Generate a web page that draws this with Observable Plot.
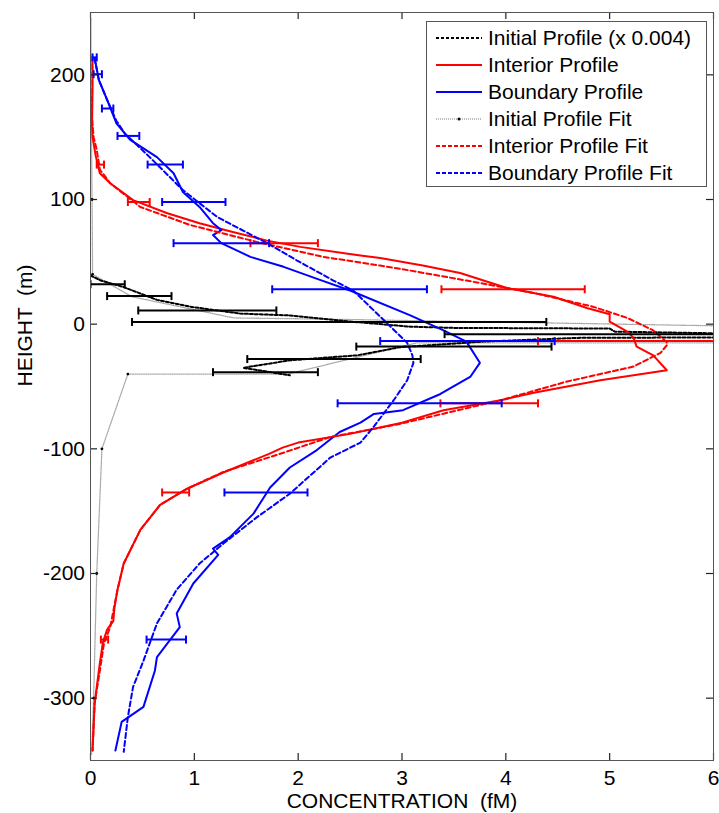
<!DOCTYPE html>
<html>
<head>
<meta charset="utf-8">
<script src="https://cdn.jsdelivr.net/npm/d3@7"></script>
<script src="https://cdn.jsdelivr.net/npm/@observablehq/plot@0.6"></script>
<style>
  body { margin: 0; background: #fff; }
  #wrap { position: relative; width: 719px; height: 813px; font-family: "Liberation Sans", Arial, sans-serif; }
  #wrap svg text { white-space: pre; }
  #legend { position: absolute; left: 426px; top: 21px; width: 281px; height: 166px; box-sizing: border-box;
            border: 1px solid #555; background: #fff; }
  .item { position: absolute; left: 0; height: 26px; display: flex; align-items: center;
          font-size: 21px; color: #000; white-space: pre; }
  .item svg { margin-left: 9px; margin-right: 6px; }
</style>
</head>
<body>
<div id="wrap"></div>
<script>
// ---------- tick labels ----------
const xTicks = [0, 1, 2, 3, 4, 5, 6];
const yTicks = [-300, -200, -100, 0, 100, 200];

// ---------- series: [concentration (fM), height (m)] ----------
const initialProfile = [
  [0.0, 39], [0.1, 35], [0.31, 30], [0.64, 19.5], [0.96, 14], [1.44, 8.5], [1.92, 7],
  [2.57, 1.6], [3.08, -2], [3.5, -3], [5.0, -3.5], [5.05, -6], [6.5, -8],
  [6.5, -10.5], [4.69, -11], [3.78, -14], [2.98, -18.5], [2.57, -25], [1.92, -29],
  [1.47, -35], [1.92, -41]
];
const interiorProfile = [
  [0.02, 214], [0.02, 190], [0.015, 160], [0.02, 150], [0.05, 135], [0.09, 121], [0.19, 113],
  [0.41, 99.5], [0.74, 89], [1.05, 81], [1.37, 74], [1.70, 67], [2.02, 62], [2.60, 55],
  [2.79, 53], [3.2, 47], [3.56, 41], [4.01, 29], [4.46, 22], [4.78, 13], [5.0, 8], [5.0, 2],
  [5.17, -6], [5.23, -11], [5.26, -18], [5.42, -25], [5.55, -37], [4.91, -45], [4.27, -55],
  [3.95, -61], [3.4, -69], [3.0, -79], [2.5, -88], [2.0, -95], [1.85, -99], [1.72, -104],
  [1.28, -119], [0.93, -132], [0.67, -145], [0.48, -165], [0.32, -192], [0.26, -213],
  [0.23, -228], [0.22, -238], [0.16, -245], [0.12, -255], [0.09, -272], [0.04, -304], [0.02, -342]
];
const boundaryProfile = [
  [0.04, 213], [0.06, 205], [0.08, 196], [0.16, 180], [0.25, 161], [0.38, 148], [0.64, 134],
  [0.8, 121], [0.89, 106], [1.05, 94], [1.18, 81], [1.26, 75.5], [1.18, 71.5], [1.26, 65],
  [1.54, 54], [1.86, 46], [2.21, 35.5], [2.5, 27], [3.08, 7], [3.4, -5], [3.62, -14],
  [3.75, -31], [3.66, -42], [3.37, -56], [3.01, -69], [2.73, -72], [2.6, -79], [2.4, -86.5],
  [2.18, -101], [1.92, -115], [1.73, -131], [1.57, -152], [1.34, -171], [1.18, -180],
  [1.23, -185], [0.99, -208], [0.83, -232], [0.86, -243], [0.64, -267], [0.62, -278],
  [0.51, -307], [0.3, -319], [0.24, -342]
];
const initialFit = [
  [0.005, 245], [0.005, 200], [0.01, 150], [0.015, 100], [0.02, 40], [0.4, 22], [1.38, 5],
  [2.3, 4], [6.5, -2], [6.5, -15], [3.14, -15], [1.9, -40], [0.36, -40], [0.11, -100],
  [0.06, -200], [0.03, -300], [0.01, -345]
];
const initialFitMarkers = [
  [0.015, 100], [0.02, 40], [0.36, -40], [0.11, -100], [0.06, -200], [0.03, -300]
];
const interiorFit = [
  [0.0, 215], [0.0, 190], [0.01, 170], [0.03, 150], [0.06, 140], [0.09, 124], [0.19, 113],
  [0.48, 94], [0.96, 79.5], [1.6, 66], [2.24, 54], [2.79, 47], [3.08, 43], [3.62, 35],
  [4.27, 25], [4.84, 14], [5.17, 5], [5.42, -5], [5.55, -14.5], [5.55, -17], [5.49, -23],
  [5.23, -34], [4.59, -46], [3.95, -61], [2.98, -80], [2.31, -90.5], [1.79, -105],
  [1.28, -118.5], [0.93, -132], [0.67, -145], [0.48, -165], [0.32, -192], [0.26, -213],
  [0.22, -230], [0.19, -243], [0.13, -256], [0.09, -278], [0.04, -304], [0.02, -342]
];
const boundaryFit = [
  [0.04, 213], [0.08, 196], [0.16, 180], [0.25, 163], [0.33, 153], [0.57, 134], [0.89, 107.5],
  [1.22, 86], [1.7, 65], [1.99, 51], [2.34, 35], [2.53, 27], [2.89, -2], [3.05, -15],
  [3.1, -25], [3.11, -31], [3.05, -45], [2.92, -61], [2.73, -82], [2.6, -95], [2.31, -107],
  [1.92, -136], [1.6, -155], [1.28, -176], [1.05, -192], [0.83, -213], [0.64, -240],
  [0.51, -270], [0.41, -291], [0.36, -315], [0.32, -343]
];

// ---------- error bars: [height, low, high] ----------
const initialErr = [
  [32, 0.0, 0.33], [22.5, 0.16, 0.78], [11, 0.46, 1.79], [1.8, 0.40, 4.39],
  [-8, 3.41, 6.5], [-18, 2.56, 4.44], [-28, 1.51, 3.18], [-38.5, 1.18, 2.19]
];
const interiorErr = [
  [128, 0.06, 0.13], [98, 0.36, 0.57], [65, 1.54, 2.19], [28, 3.38, 4.76],
  [-13.6, 4.31, 6.3], [-63.5, 3.37, 4.31], [-135, 0.69, 0.95], [-253, 0.10, 0.17]
];
const boundaryErr = [
  [214, 0.02, 0.06], [200.5, 0.03, 0.11], [173, 0.11, 0.22], [151, 0.26, 0.47],
  [128, 0.55, 0.89], [98, 0.69, 1.30], [65, 0.80, 1.72], [28, 1.75, 3.24],
  [-13.6, 2.79, 4.47], [-63.5, 2.38, 3.96], [-135, 1.29, 2.09], [-253, 0.54, 0.92]
];

// ---------- legend ----------
const legendLabels = ["Initial Profile (x 0.004)", "Interior Profile", "Boundary Profile",
                      "Initial Profile Fit", "Interior Profile Fit", "Boundary Profile Fit"];

// ---------- styles ----------
const RED = "#ff0000", BLUE = "#0000ff", BLACK = "#000000", GRAY = "#a8a8a8";
const DASH = "5,3";
const legendStyles = [
  {stroke: BLACK, dash: "3,2", width: 2},
  {stroke: RED, dash: null, width: 2},
  {stroke: BLUE, dash: null, width: 2},
  {stroke: GRAY, dash: "1,1", width: 1.5, marker: true},
  {stroke: RED, dash: "4,2", width: 2},
  {stroke: BLUE, dash: "4,2", width: 2}
];

// layout (pixels)
const W = 719, H = 813, ML = 90, MR = 6, MT = 12, MB = 53;
const FW = W - ML - MR, FH = H - MT - MB, TL = 7;

// symbol for error-bar caps (pixel-sized)
const vSym = {draw(c, s) { const h = Math.sqrt(s / Math.PI); c.moveTo(0, -h); c.lineTo(0, h); }};

const X = d => d[0], Y = d => d[1];
function line(data, stroke, opts = {}) {
  return Plot.line(data, {x: X, y: Y, stroke, strokeWidth: 2, clip: true, ...opts});
}
function errBars(data, stroke) {
  return [
    Plot.ruleY(data, {y: d => d[0], x1: d => d[1], x2: d => d[2], stroke, strokeWidth: 2, clip: true}),
    Plot.dot(data, {x: d => d[1], y: d => d[0], symbol: vSym, r: 4, stroke, fill: "none", strokeWidth: 2, clip: true}),
    Plot.dot(data, {x: d => d[2], y: d => d[0], symbol: vSym, r: 4, stroke, fill: "none", strokeWidth: 2, clip: true})
  ];
}
const TICK = "#222";
const fmt = d => String(d);

const chart = Plot.plot({
  width: W,
  height: H,
  marginLeft: ML,
  marginRight: MR,
  marginTop: MT,
  marginBottom: MB,
  style: {fontFamily: '"Liberation Sans", Arial, sans-serif', fontSize: "21px", background: "#fff", color: "#000"},
  x: {domain: [0, 6], label: null},
  y: {domain: [-350, 250], label: null},
  marks: [
    // data series
    line(initialFit, GRAY, {strokeWidth: 1.3, strokeDasharray: "1,1.2"}),
    Plot.dot(initialFitMarkers, {x: X, y: Y, r: 1.4, fill: BLACK, stroke: "none", clip: true}),
    line(initialProfile, BLACK, {strokeDasharray: "3,2"}),
    line(interiorProfile, RED),
    line(boundaryProfile, BLUE),
    line(interiorFit, RED, {strokeDasharray: DASH}),
    line(boundaryFit, BLUE, {strokeDasharray: DASH}),
    ...errBars(initialErr, BLACK),
    ...errBars(interiorErr, RED),
    ...errBars(boundaryErr, BLUE),
    // inward ticks on all four sides (rules inset to tick length)
    Plot.ruleX(xTicks, {x: d => d, insetTop: FH - TL, stroke: TICK, strokeWidth: 1.2}),
    Plot.ruleX(xTicks, {x: d => d, insetBottom: FH - TL, stroke: TICK, strokeWidth: 1.2}),
    Plot.ruleY(yTicks, {y: d => d, insetRight: FW - TL, stroke: TICK, strokeWidth: 1.2}),
    Plot.ruleY(yTicks, {y: d => d, insetLeft: FW - TL, stroke: TICK, strokeWidth: 1.2}),
    // tick labels
    Plot.axisX(xTicks, {anchor: "bottom", tickSize: 0, tickPadding: 10, label: null, fontSize: 21, tickFormat: fmt}),
    Plot.axisY(yTicks, {anchor: "left", tickSize: 0, tickPadding: 5.5, label: null, fontSize: 21, tickFormat: fmt}),
    Plot.frame({stroke: "#555"}),
    // axis titles
    Plot.text(["CONCENTRATION  (fM)"], {frameAnchor: "bottom", dy: 47, fontSize: 21, fill: BLACK}),
    Plot.text(["HEIGHT  (m)"], {frameAnchor: "left", dx: -65, rotate: -90, fontSize: 21, fill: BLACK})
  ]
});

const wrap = document.getElementById("wrap");
wrap.appendChild(chart);

// legend box (inside the axes, top right)
const legend = document.createElement("div");
legend.id = "legend";
legendLabels.forEach((lab, i) => {
  const st = legendStyles[i];
  const item = document.createElement("div");
  item.className = "item";
  item.style.top = (3 + i * 26.9) + "px";
  const ns = "http://www.w3.org/2000/svg";
  const s = document.createElementNS(ns, "svg");
  s.setAttribute("width", 46);
  s.setAttribute("height", 10);
  const l = document.createElementNS(ns, "line");
  l.setAttribute("x1", 0); l.setAttribute("x2", 46);
  l.setAttribute("y1", 5); l.setAttribute("y2", 5);
  l.setAttribute("stroke", st.stroke);
  l.setAttribute("stroke-width", st.width);
  if (st.dash) l.setAttribute("stroke-dasharray", st.dash);
  s.appendChild(l);
  if (st.marker) {
    const c = document.createElementNS(ns, "circle");
    c.setAttribute("cx", 23); c.setAttribute("cy", 5); c.setAttribute("r", 1.5);
    c.setAttribute("fill", BLACK);
    s.appendChild(c);
  }
  item.appendChild(s);
  const t = document.createElement("span");
  t.textContent = lab;
  item.appendChild(t);
  legend.appendChild(item);
});
wrap.appendChild(legend);
</script>
</body>
</html>
